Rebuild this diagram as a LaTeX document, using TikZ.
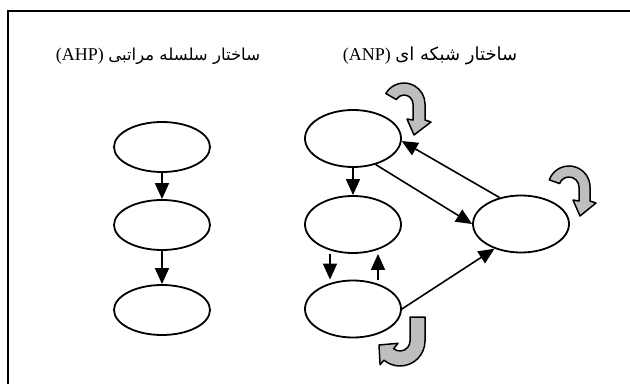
\documentclass[tikz,border=0pt]{standalone}
\usepackage{fontspec}
\setmainfont{Liberation Serif}
\newfontfamily\fafont[Script=Arabic]{DejaVu Sans}
\TeXXeTstate=1
\usetikzlibrary{shapes.geometric,arrows.meta,calc}
\definecolor{curlgray}{RGB}{190,190,190}
\begin{document}
\begin{tikzpicture}[x=1pt,y=1pt,
  oval/.style={draw, ellipse, line width=1.8pt, minimum width=96pt, minimum height=50pt, inner sep=0pt},
  ovalb/.style={oval, minimum height=57pt},
  link/.style={line width=1.6pt, -{Triangle[length=16pt,width=14pt]}},
  curl/.style={draw=black, fill=curlgray, line width=1.5pt, line join=round},
  title/.style={inner sep=0pt, font=\fontsize{18}{21}\selectfont}]
\useasboundingbox (0,0) rectangle (630,384);
\draw[line width=2.4pt] (8,0) -- (8,373) -- (630,373);

% titles
\node[title] (tahp) at (158,328) {(AHP) {\fafont\fontsize{16.5}{19}\selectfont\beginR ساختار سلسله مراتبی\endR}};
\node[title] (tanp) at (430,328) {(ANP) {\fafont\fontsize{18}{21}\selectfont\beginR ساختار شبکه ای\endR}};

% AHP
\node[oval] (h1) at (162,237) {};
\node[oval] (h2) at (162,159) {};
\node[oval] (h3) at (162,74) {};
\draw[link] (h1.south) -- (h2.north);
\draw[link] (h2.south) -- (h3.north);

% ANP
\node[ovalb] (A) at (353,245.5) {};
\node[ovalb] (B) at (353,159.5) {};
\node[ovalb] (C) at (521,160) {};
\node[ovalb] (D) at (353,75) {};
\draw[link] (A.south) -- (B.north);
\draw[link] (A.-49) -- (C.west);
\draw[link] (C.129) -- (A.-3);
\draw[link] ([xshift=-23pt]B.south) -- ([xshift=-23pt]D.north);
\draw[link] ([xshift=25pt]D.north) -- ([xshift=25pt]B.south);
\draw[link] (D.east) -- (C.-137);

% self loops
\begin{scope}[shift={(404,280)}]
\path[curl] (150:21) arc[start angle=150,end angle=0,radius=21] -- (21,-16) -- (27,-18) -- (10,-31) -- (3,-15) -- (9,-16) -- (9,0) arc[start angle=0,end angle=150,radius=9] -- cycle;
\end{scope}
\begin{scope}[shift={(569,197)}]
\path[curl] (160:21) arc[start angle=160,end angle=0,radius=21] -- (21,-14) -- (27,-16) -- (11,-29) -- (4,-13) -- (10,-14) -- (10,0) arc[start angle=0,end angle=160,radius=10] -- cycle;
\end{scope}
\begin{scope}[shift={(400,43)}]
\path[curl] (10,24) -- (25,24) -- (25,0) arc[start angle=0,end angle=-130,radius=25] -- (-130:31) -- (-21,-4) -- (-130:3) -- (-130:10) arc[start angle=-130,end angle=0,radius=10] -- cycle;
\end{scope}
\end{tikzpicture}
\end{document}
